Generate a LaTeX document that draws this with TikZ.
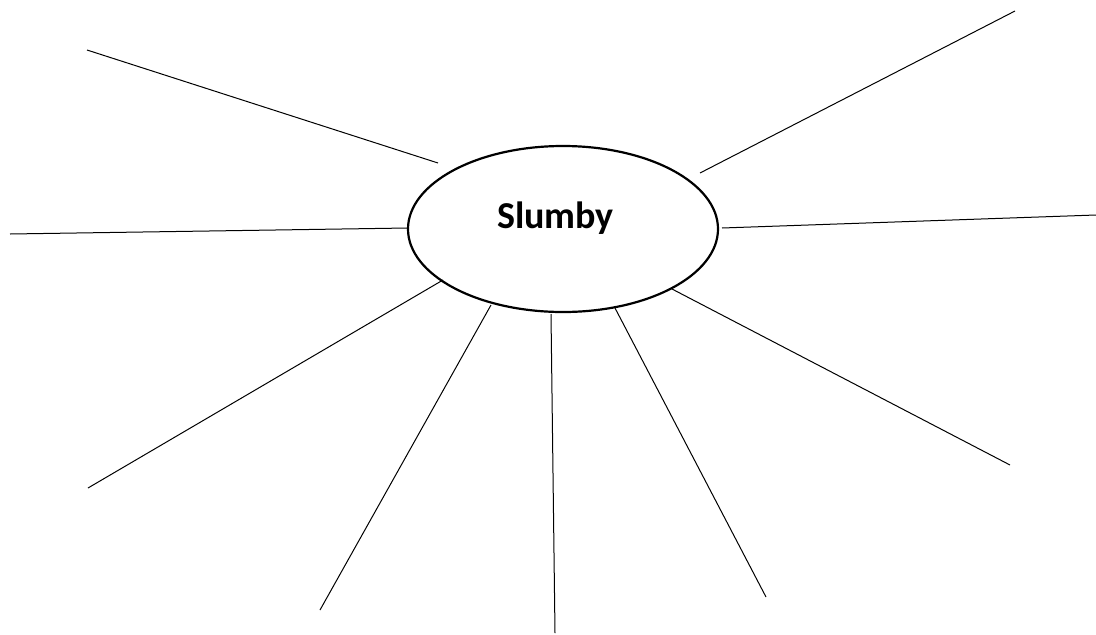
\documentclass[tikz,border=0pt]{standalone}
\usepackage{fontspec}
\setmainfont{Carlito}
\usetikzlibrary{shapes.geometric}
\begin{document}
\begin{tikzpicture}[x=1pt,y=-1pt,
  ray/.style={line width=1pt},
  hub/.style={draw,ellipse,line width=2.2pt,minimum width=310pt,minimum height=166pt,inner sep=0pt},
  label/.style={font=\fontsize{38}{44}\selectfont\bfseries,anchor=base,inner sep=0pt}]
\useasboundingbox (0,0) rectangle (1096,635);
\node[hub] (c) at (563,229) {};
\node[label] (t) at (555.5,228) {Slumby};
% inner ends
\coordinate (i1) at (438,163);
\coordinate (i2) at (408,228);
\coordinate (i3) at (443,280);
\coordinate (i4) at (491,305);
\coordinate (i5) at (551,314);
\coordinate (i6) at (615,308);
\coordinate (i7) at (672,289);
\coordinate (i8) at (722,228);
\coordinate (i9) at (700,173);
% outer ends
\coordinate (o1) at (87,50);
\coordinate (o2) at (10,234);
\coordinate (o3) at (88,488);
\coordinate (o4) at (320,610);
\coordinate (o5) at (555,633);
\coordinate (o6) at (766,597);
\coordinate (o7) at (1010,465);
\coordinate (o8) at (1096,215);
\coordinate (o9) at (1015,11);
\foreach \k in {1,...,9} {\draw[ray] (o\k) -- (i\k);}
\end{tikzpicture}
\end{document}
